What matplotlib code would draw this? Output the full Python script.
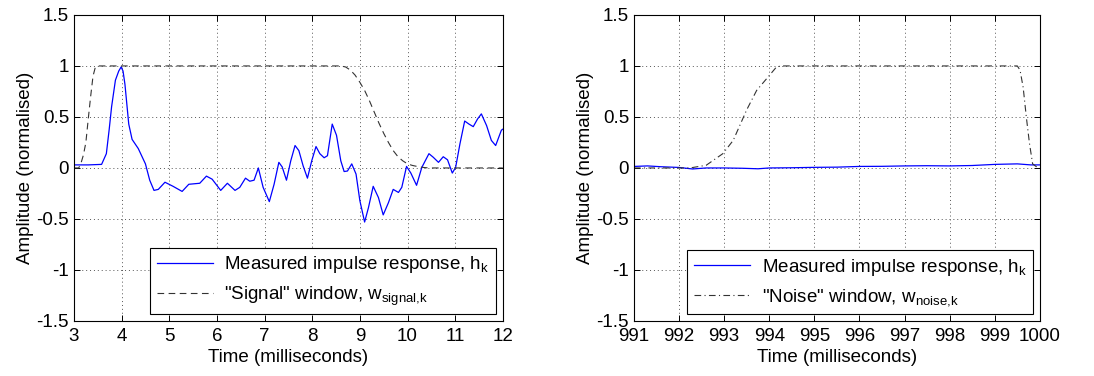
import matplotlib
matplotlib.use('Agg')
import matplotlib.pyplot as plt

plt.rcParams['font.family'] = ['Liberation Sans', 'DejaVu Sans']
plt.rcParams['mathtext.fontset'] = 'custom'
plt.rcParams['mathtext.rm'] = 'Liberation Sans'

# ── Data ──────────────────────────────────────────────────────────────────────
# left panel: measured impulse response (ms, normalised amplitude)
sig_t = [3.0, 3.3, 3.58, 3.68, 3.74, 3.79, 3.87, 3.94, 3.99, 4.03, 4.07, 4.15, 4.22, 4.35, 4.5, 4.59,
         4.68, 4.77, 4.91, 5.08, 5.27, 5.41, 5.64, 5.78, 5.9, 6.08, 6.22, 6.38, 6.48,
         6.6, 6.69, 6.78, 6.87, 6.97, 7.1, 7.2, 7.3, 7.37, 7.46, 7.55, 7.64, 7.72,
         7.81, 7.9, 7.99, 8.08, 8.16, 8.25, 8.32, 8.42, 8.51, 8.6, 8.67, 8.74, 8.83,
         8.92, 9.0, 9.1, 9.18, 9.28, 9.39, 9.49, 9.6, 9.7, 9.81, 9.88, 9.98, 10.07,
         10.19, 10.3, 10.45, 10.54, 10.65, 10.75, 10.84, 10.94, 11.01, 11.1, 11.2,
         11.29, 11.38, 11.47, 11.55, 11.66, 11.76, 11.85, 11.97, 12.0]
sig_h = [0.03, 0.03, 0.035, 0.14, 0.38, 0.6, 0.86, 0.95, 0.99, 0.95, 0.82, 0.43, 0.28, 0.19, 0.04, -0.12,
         -0.22, -0.21, -0.14, -0.18, -0.23, -0.16, -0.15, -0.08, -0.11, -0.22, -0.15,
         -0.22, -0.19, -0.10, -0.13, -0.12, 0.0, -0.19, -0.33, -0.16, 0.055, 0.01,
         -0.12, 0.07, 0.22, 0.17, 0.02, -0.10, 0.07, 0.21, 0.14, 0.10, 0.12, 0.43,
         0.32, 0.07, -0.035, -0.03, 0.04, -0.06, -0.32, -0.53, -0.39, -0.18, -0.29,
         -0.46, -0.34, -0.21, -0.24, -0.19, 0.015, -0.05, -0.17, 0.005, 0.14, 0.105,
         0.055, 0.11, 0.08, -0.05, 0.005, 0.235, 0.46, 0.43, 0.405, 0.48, 0.53, 0.415,
         0.27, 0.22, 0.37, 0.38]

# left panel: "signal" window
win_s_t = [3.0, 3.1, 3.15, 3.2, 3.25, 3.3, 3.35, 3.4, 3.45, 3.5, 8.6, 8.7, 8.8, 8.9,
           9.0, 9.1, 9.2, 9.3, 9.4, 9.5, 9.6, 9.7, 9.8, 9.9, 10.0, 10.1, 10.2, 10.3,
           10.4, 10.5, 12.0]
win_s_w = [0.0, 0.0, 0.05, 0.13, 0.25, 0.48, 0.7, 0.9, 0.99, 1.0, 1.0, 0.99, 0.96,
           0.91, 0.84, 0.76, 0.66, 0.55, 0.44, 0.34, 0.25, 0.17, 0.11, 0.07, 0.04,
           0.025, 0.015, 0.007, 0.002, 0.0, 0.0]

# right panel: tail of the impulse response
noise_t = [991.0, 991.3, 991.6, 992.0, 992.3, 992.6, 993.0, 993.4, 993.75, 994.0,
           994.5, 995.0, 995.5, 996.0, 996.5, 997.0, 997.5, 998.0, 998.5, 999.0,
           999.5, 999.8, 1000.0]
noise_h = [0.015, 0.02, 0.012, 0.005, -0.01, 0.0, 0.0, -0.003, -0.008, 0.0, 0.002,
           0.006, 0.008, 0.015, 0.016, 0.02, 0.022, 0.02, 0.024, 0.035, 0.04, 0.03,
           0.03]

# right panel: "noise" window
win_n_t = [991.0, 992.24, 992.6, 992.97, 993.2, 993.5, 993.72, 993.97, 994.16, 994.27,
           999.5, 999.56, 999.63, 999.7, 999.77, 999.84, 999.93, 1000.0]
win_n_w = [0.0, 0.0, 0.026, 0.14, 0.27, 0.57, 0.76, 0.89, 0.99, 1.0, 1.0, 0.96, 0.79,
           0.5, 0.24, 0.04, 0.01, 0.0]

yticks = [-1.5, -1, -0.5, 0, 0.5, 1, 1.5]
ytick_labels = ['-1.5', '-1', '-0.5', '0', '0.5', '1', '1.5']

FS = 13.5

# ── Figure ────────────────────────────────────────────────────────────────────
fig = plt.figure(figsize=(10.94, 3.76), dpi=100)
ax1 = fig.add_axes([0.0676, 0.1463, 0.392, 0.814])
ax2 = fig.add_axes([0.5795, 0.1463, 0.371, 0.814])


def style(ax, xlim):
    ax.set_xlim(*xlim)
    ax.set_ylim(-1.5, 1.5)
    ax.set_yticks(yticks)
    ax.set_yticklabels(ytick_labels)
    ax.set_xticks(range(int(xlim[0]), int(xlim[1]) + 1))
    ax.grid(True, linestyle=(0, (1, 3)), color='#555555', linewidth=0.7)
    ax.tick_params(direction='in', length=4, labelsize=FS, width=0.7, top=True, right=True)
    ax.tick_params(axis='x', pad=5)
    for sp in ax.spines.values():
        sp.set_linewidth(0.8)
    ax.set_xlabel('Time (milliseconds)', fontsize=FS, labelpad=3)
    ax.set_ylabel('Amplitude (normalised)', fontsize=FS, labelpad=2)


ax1.plot(sig_t, sig_h, color='#0000FF', lw=0.9,
         label=r'Measured impulse response, $\mathregular{h_k}$')
ax1.plot(win_s_t, win_s_w, color='#333333', lw=0.8, linestyle=(0, (6, 4)),
         label=r'"Signal" window, $\mathregular{w_{signal{,}k}}$')
style(ax1, (3, 12))

ax2.plot(noise_t, noise_h, color='#0000FF', lw=0.9,
         label=r'Measured impulse response, $\mathregular{h_k}$')
ax2.plot(win_n_t, win_n_w, color='#333333', lw=0.8, linestyle=(0, (6, 3, 1, 3)),
         label=r'"Noise" window, $\mathregular{w_{noise{,}k}}$')
style(ax2, (991, 1000))

for ax in (ax1, ax2):
    leg = ax.legend(loc='lower right', fontsize=FS, handlelength=3.0, fancybox=False,
                    framealpha=1, edgecolor='black', borderaxespad=0.35,
                    borderpad=0.35, labelspacing=0.5, handletextpad=0.6)
    leg.get_frame().set_linewidth(0.8)

fig.savefig('out.png', dpi=100)
